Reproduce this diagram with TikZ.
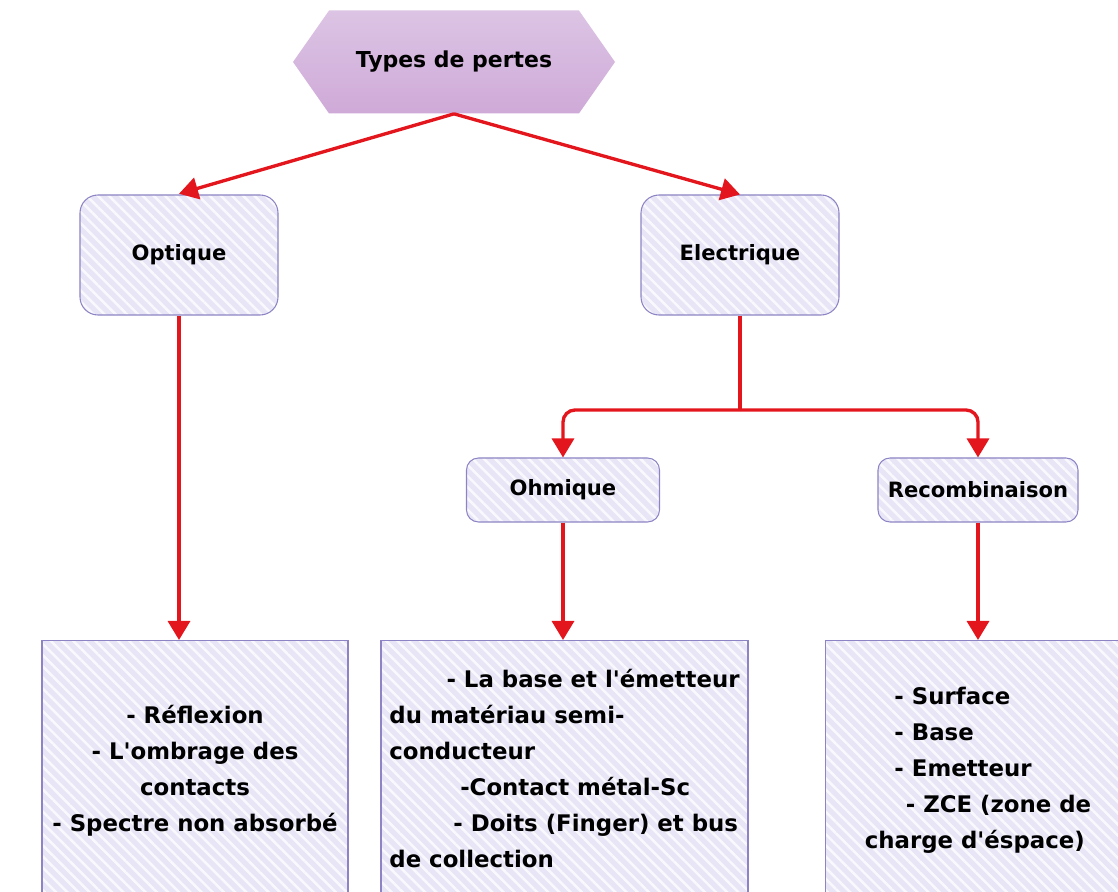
\documentclass[tikz,border=0pt]{standalone}
\usepackage{fontspec}
\setmainfont{DejaVu Sans}
\usetikzlibrary{arrows.meta,shapes.symbols,patterns.meta}

\definecolor{boxfill}{HTML}{E8E6F6}
\definecolor{boxline}{HTML}{8C84C4}
\definecolor{hextop}{HTML}{DCC4E4}
\definecolor{hexbot}{HTML}{CFAAD8}
\definecolor{arrowred}{HTML}{E3161D}

\newcommand{\apos}{\textquotesingle}

\tikzset{
  hatched/.style={preaction={fill=boxfill}, pattern={Lines[angle=-45,distance=4.5pt,line width=1.4pt]}, pattern color=white!75!boxfill},
  catbox/.style={draw=boxline, line width=0.6pt, hatched, font=\bfseries\fontsize{12}{14}\selectfont},
  listbox/.style={draw=boxline, line width=0.6pt, hatched, inner sep=0pt, anchor=north, font=\bfseries\fontsize{13}{20.5}\selectfont},
  link/.style={draw=arrowred, line width=1.9pt, -{Triangle[width=4.4mm,length=3.8mm]}},
}

\begin{document}
\begin{tikzpicture}[x=0.2mm,y=-0.2mm]
\useasboundingbox (0,0) rectangle (1118,892);
\clip (0,0) rectangle (1118,892);

% top of the tree
\node[signal, signal to=west and east, signal pointer angle=110, minimum width=64.4mm, minimum height=20.6mm,
  top color=hextop, bottom color=hexbot, font=\bfseries\fontsize{12.5}{14}\selectfont] (types) at (454,62) {Types de pertes};

% categories
\node[catbox, rounded corners=3.6mm, minimum width=39.6mm, minimum height=24mm] (optique) at (179,255) {Optique};
\node[catbox, rounded corners=3.6mm, minimum width=39.6mm, minimum height=24mm] (elec) at (740,255) {Electrique};
\node[catbox, rounded corners=2.4mm, minimum width=38.6mm, minimum height=12.8mm] (ohm) at (563,490) {Ohmique};
\node[catbox, rounded corners=2.4mm, minimum width=40mm, minimum height=12.8mm] (rec) at (978,490) {Recombinaison};

% lists
\node[listbox, minimum width=61.2mm, minimum height=52mm, align=center] (optlist) at (195,640)
  {- Réflexion\\- L\apos ombrage des\\contacts\\- Spectre non absorbé};
\node[listbox, minimum width=73.4mm, minimum height=51.2mm, align=left] (ohmlist) at (564.5,640)
  {\hspace*{2.5em}- La base et l\apos émetteur\\du matériau semi-\\conducteur\\\hspace*{3.1em}-Contact métal-Sc\\\hspace*{2.8em}- Doits (Finger) et bus\\de collection};
\node[listbox, minimum width=61mm, minimum height=52mm, align=left] (reclist) at (978,640)
  {\hspace*{1.3em}- Surface\\\hspace*{1.3em}- Base\\\hspace*{1.3em}- Emetteur\\\hspace*{1.8em}- ZCE (zone de\\charge d\apos éspace)};

% connectors
\draw[link] (types.south) -- (optique.north);
\draw[link] (types.south) -- (elec.north);
\draw[link] (optique.south) -- (optique.south |- optlist.north);
\coordinate (split) at (740,410);
\draw[link, -] (elec.south) -- (split);
\draw[link, rounded corners=2.4mm] (split) -| (ohm.north);
\draw[link, rounded corners=2.4mm] (split) -| (rec.north);
\draw[link] (ohm.south) -- (ohm.south |- ohmlist.north);
\draw[link] (rec.south) -- (reclist.north);
\end{tikzpicture}
\end{document}
